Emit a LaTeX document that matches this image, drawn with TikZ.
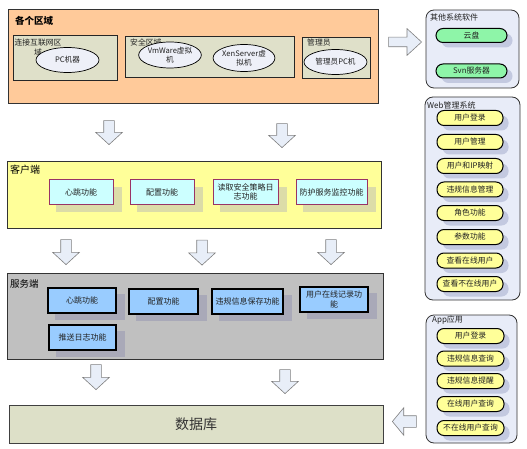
\documentclass[tikz,border=0pt]{standalone}
\usepackage{fontspec}
\setmainfont{Noto Sans CJK SC}
\usetikzlibrary{shapes.geometric,shapes.arrows}
\definecolor{orangebg}{HTML}{FFCA9A}
\definecolor{olivebox}{HTML}{DFE0C9}
\definecolor{ellfill}{HTML}{EEF0F8}
\definecolor{clientbg}{HTML}{FFFF99}
\definecolor{clientbox}{HTML}{CCFFFF}
\definecolor{clientedge}{HTML}{993366}
\definecolor{clientshadow}{HTML}{DCDCA8}
\definecolor{serverbg}{HTML}{C0C0C0}
\definecolor{serverbox}{HTML}{99CCFF}
\definecolor{servershadow}{HTML}{A9A9B8}
\definecolor{dbfill}{HTML}{DDE0C8}
\definecolor{panelfill}{HTML}{E8ECF8}
\definecolor{greenpill}{HTML}{8EF5A8}
\definecolor{yellowpill}{HTML}{FFFF99}
\definecolor{pillshadow}{HTML}{C3C9E0}
\definecolor{arrowfill}{HTML}{E8EEF8}
\definecolor{arrowedge}{HTML}{7F7F7F}
\definecolor{txt}{HTML}{222222}
\tikzset{
  sz/.style 2 args={minimum width=#1, minimum height=#2},
  region/.style={draw=black!80, line width=0.8pt, inner sep=0pt},
  zone/.style={draw=black!85, fill=olivebox, line width=0.8pt, inner sep=0pt},
  ell/.style={ellipse, draw=black, fill=ellfill, line width=0.7pt, inner sep=0pt, align=center, text=txt, font=\fontsize{7.6}{8.8}\selectfont},
  lbl/.style={inner sep=0pt, anchor=west, text=txt},
  title/.style={inner sep=0pt, anchor=west, text=black, font=\fontsize{9.5}{10}\selectfont\bfseries},
  shadowbox/.style={draw=none, inner sep=0pt},
  cbox/.style={draw=clientedge, fill=clientbox, line width=1pt, inner sep=1pt, align=center, text=txt,
     font=\fontsize{8}{9.5}\selectfont},
  sbox/.style={draw=black, fill=serverbox, line width=1.5pt, inner sep=1pt, align=center, text=txt,
     font=\fontsize{8}{9.5}\selectfont},
  panel/.style={draw=black!80, fill=panelfill, line width=0.8pt, rounded corners=8pt, inner sep=0pt},
  pill/.style={draw=black, line width=1pt, rounded corners=7pt, inner sep=0pt, text=txt,
     font=\fontsize{7.8}{8.5}\selectfont, minimum height=14pt},
  pillshade/.style={draw=none, fill=pillshadow, rounded corners=7pt, inner sep=0pt},
  blockarrow/.style={single arrow, draw=arrowedge, fill=arrowfill, line width=0.6pt, inner sep=5pt,
     single arrow head extend=8pt, anchor=tip},
}
\begin{document}
\begin{tikzpicture}[x=1pt,y=-1pt, font=\fontsize{7.5}{9}\selectfont]
\useasboundingbox (0,0) rectangle (527,449);

% ---------- top region ----------
\node[region, fill=orangebg, sz={370}{94}] (top) at (193,56) {};
\node[title] (toplbl) at (15,21) {各个区域};
\node[zone, sz={104}{45}] (z1) at (65,57.5) {};
\node[zone, sz={169}{41}] (z2) at (209.5,56.5) {};
\node[zone, sz={68}{41}] (z3) at (336,57.5) {};
\node[inner sep=0pt, align=center, text=txt, font=\fontsize{7.8}{10}\selectfont] (z1lbl) at (38,48) {连接互联网区\\域};
\node[lbl, font=\fontsize{7.8}{8}\selectfont] (z2lbl) at (130,42) {安全区域};
\node[lbl, font=\fontsize{7.8}{8}\selectfont] (z3lbl) at (307,43) {管理员};
\node[ell, sz={63}{25}] (pc) at (67.5,60) {PC机器};
\node[ell, sz={54}{26}] (vm) at (170,55) {VmWare虚拟\\机};
\node[ell, sz={52}{27}] (xen) at (244,58) {XenServer虚\\拟机};
\node[ell, sz={63}{25}] (adm) at (335.5,62) {管理员PC机};

% ---------- client ----------
\node[region, fill=clientbg, sz={374}{67}] (client) at (194,194.5) {};
\node[lbl, text=black, font=\fontsize{10}{11}\selectfont] (clientlbl) at (10,170) {客户端};
\node[shadowbox, fill=clientshadow, sz={66}{25}] (c1s) at (89,199.5) {};
\node[shadowbox, fill=clientshadow, sz={66}{25}] (c2s) at (170,199.5) {};
\node[shadowbox, fill=clientshadow, sz={67}{25}] (c3s) at (253.5,199.5) {};
\node[shadowbox, fill=clientshadow, sz={73}{25}] (c4s) at (339.5,199.5) {};
\node[cbox, sz={64}{24}] (c1) at (81,192) {心跳功能};
\node[cbox, sz={64}{24}] (c2) at (162,192) {配置功能};
\node[cbox, sz={65}{24}, text width=62pt] (c3) at (245.5,192) {读取安全策略日\\志功能};
\node[cbox, sz={71}{24}] (c4) at (331.5,192) {防护服务监控功能};

% ---------- server ----------
\node[region, fill=serverbg, sz={376}{86}] (server) at (195,316) {};
\node[lbl, text=black, font=\fontsize{9.5}{11}\selectfont] (serverlbl) at (10,284) {服务端};
\node[shadowbox, fill=servershadow, sz={70}{26}] (s1s) at (90,307) {};
\node[shadowbox, fill=servershadow, sz={71}{26}] (s2s) at (171.5,308) {};
\node[shadowbox, fill=servershadow, sz={73}{26}] (s3s) at (255.5,308) {};
\node[shadowbox, fill=servershadow, sz={70}{26}] (s4s) at (342,306) {};
\node[shadowbox, fill=servershadow, sz={69}{26}] (s5s) at (90.5,344) {};
\node[sbox, sz={68}{25}] (s1) at (82,300.5) {心跳功能};
\node[sbox, sz={69}{25}] (s2) at (163.5,301.5) {配置功能};
\node[sbox, sz={71}{25}] (s3) at (247.5,301.5) {违规信息保存功能};
\node[sbox, sz={68}{25}, text width=64pt] (s4) at (334,299.5) {用户在线记录功\\能};
\node[sbox, sz={67}{25}] (s5) at (82.5,337.5) {推送日志功能};

% ---------- database ----------
\node[draw=black!75, fill=dbfill, line width=0.8pt, sz={374}{38}, text=black!80, font=\fontsize{14}{16}\selectfont] (db) at (196,424) {数据库};

% ---------- right panels ----------
\node[panel, sz={93}{78}] (p1) at (472.5,49) {};
\node[lbl, font=\fontsize{8}{9}\selectfont] (p1lbl) at (430,17) {其他系统软件};
\node[pillshade, sz={71}{14}] (g1s) at (477,40.5) {};
\node[pillshade, sz={71}{14}] (g2s) at (477,76) {};
\node[pill, fill=greenpill, sz={71}{14}] (g1) at (471.5,35.5) {云盘};
\node[pill, fill=greenpill, sz={71}{14}] (g2) at (471.5,71) {Svn服务器};

\node[panel, sz={95}{203}] (p2) at (472.5,198.5) {};
\node[lbl, font=\fontsize{8}{9}\selectfont] (p2lbl) at (427,105) {Web管理系统};
\foreach \t/\y [count=\i] in {用户登录/118, 用户管理/142, 用户和IP映射/166, 违规信息管理/189.5, 角色功能/213, 参数功能/237, 查看在线用户/260.5, 查看不在线用户/284}{
  \node[pillshade, sz={66}{15}] (w\i s) at (475.5,\y+5) {};
  \node[pill, fill=yellowpill, sz={66}{15}] (w\i) at (470,\y) {\t};
}

\node[panel, sz={91}{128}] (p3) at (471.5,379) {};
\node[lbl, font=\fontsize{8}{9}\selectfont] (p3lbl) at (432,320) {App应用};
\foreach \t/\y [count=\i] in {用户登录/336, 违规信息查询/358.5, 违规信息提醒/381, 在线用户查询/404, 不在线用户查询/428}{
  \node[pillshade, sz={67}{15}] (a\i s) at (476,\y+5) {};
  \node[pill, fill=yellowpill, sz={67}{15}] (a\i) at (470.5,\y) {\t};
}

% ---------- block arrows ----------
\node[blockarrow, shape border rotate=270, minimum height=24pt, single arrow tip angle=95] (d1) at (109,145) {};
\node[blockarrow, shape border rotate=270, minimum height=24pt, single arrow tip angle=95] (d2) at (282,148) {};
\node[blockarrow, shape border rotate=270, minimum height=25pt, single arrow tip angle=95] (d3) at (66,265) {};
\node[blockarrow, shape border rotate=270, minimum height=25pt, single arrow tip angle=95] (d4) at (202,265.5) {};
\node[blockarrow, shape border rotate=270, minimum height=25pt, single arrow tip angle=95] (d5) at (331,265) {};
\node[blockarrow, shape border rotate=270, minimum height=25pt, single arrow tip angle=95] (d6) at (96,390) {};
\node[blockarrow, shape border rotate=270, minimum height=24pt, single arrow tip angle=95] (d7) at (285,394) {};
\node[blockarrow, inner sep=4.5pt, single arrow head extend=8.5pt, minimum height=33pt, single arrow tip angle=85] (r1) at (422,42) {};
\node[blockarrow, inner sep=5.5pt, single arrow head extend=8pt, shape border rotate=180, minimum height=24pt, single arrow tip angle=101] (l1) at (392,421.5) {};
\end{tikzpicture}
\end{document}
